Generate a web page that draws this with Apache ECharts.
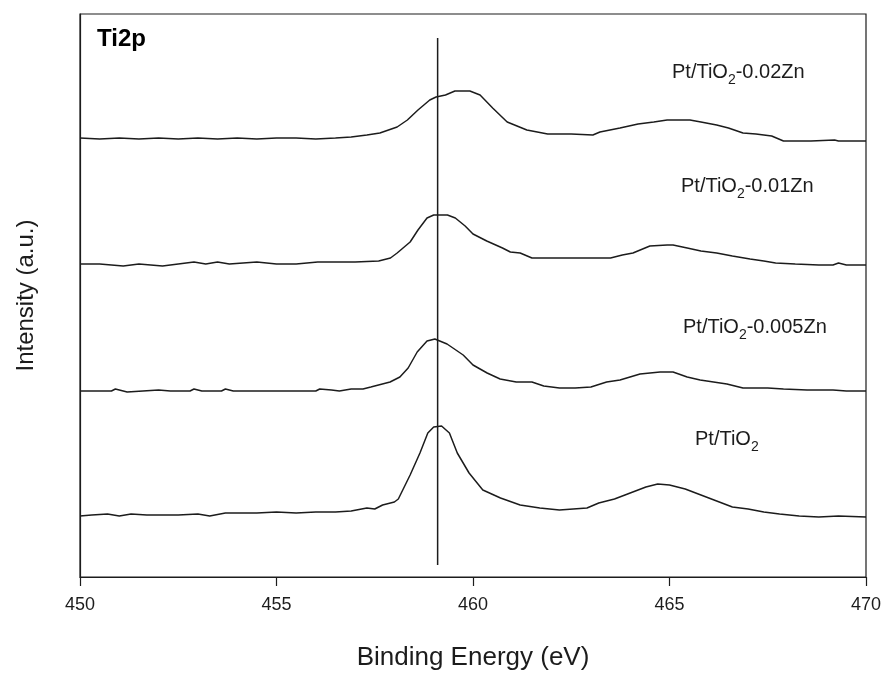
<!DOCTYPE html>
<html>
<head>
<meta charset="utf-8">
<script src="https://cdn.jsdelivr.net/npm/echarts@6/dist/echarts.min.js"></script>
<style>
  html, body { margin: 0; padding: 0; background: #fff; }
  #chart { width: 888px; height: 677px; }
</style>
</head>
<body>
<div id="chart"></div>
<script>
// Ti 2p XPS spectra, stacked with vertical offsets (intensity in arbitrary units)
const xTicks = [450, 455, 460, 465, 470];

const spec002Zn = [
  [450.0,439],[450.5,438],[451.0,439],[451.5,438],[452.0,439],[452.5,438],[453.0,439],[453.5,438],
  [454.0,439],[454.5,438],[455.0,439],[455.5,439],[456.0,438],[456.5,439],[456.9,440],[457.3,442],
  [457.63,444],[458.07,450],[458.33,457],[458.6,467],[458.9,477],[459.06,480],[459.3,482],[459.54,486],
  [459.92,486],[460.18,482],[460.5,469],[460.87,455],[461.37,447],[461.9,443],[462.5,443],[463.05,442],
  [463.23,445],[463.74,449],[464.2,453],[464.6,455],[464.94,457],[465.52,457],[465.8,455],[466.2,452],
  [466.5,449],[466.87,444],[467.2,443],[467.6,441],[467.9,436],[468.6,436],[469.2,437],[469.3,436],[470.0,436]
];

const spec001Zn = [
  [450.0,313],[450.5,313],[451.1,311],[451.5,313],[452.1,311],[452.5,313],[452.9,315],[453.2,313],
  [453.5,315],[453.8,313],[454.5,315],[455.0,313],[455.5,313],[456.05,315],[456.5,315],[457.0,315],
  [457.6,316],[457.9,319],[458.07,324],[458.4,335],[458.6,347],[458.83,359],[459.0,362],[459.35,362],
  [459.55,359],[459.8,351],[460.0,343],[460.35,336],[460.75,329],[460.95,325],[461.2,324],[461.5,319],
  [462.0,319],[462.5,319],[463.0,319],[463.5,319],[463.8,322],[464.07,324],[464.5,331],[464.94,332],
  [465.09,332],[465.45,329],[465.8,326],[466.2,324],[466.6,321],[467.05,318],[467.4,316],[467.7,314],
  [468.2,313],[468.8,312],[469.16,312],[469.3,314],[469.5,312],[470.0,312]
];

const spec0005Zn = [
  [450.0,186],[450.8,186],[450.9,188],[451.2,185],[451.6,186],[452.0,187],[452.3,186],[452.8,186],
  [452.9,188],[453.1,186],[453.6,186],[453.7,188],[453.9,186],[455.0,186],[456.0,186],[456.1,188],
  [456.4,187],[456.6,186],[456.9,188],[457.2,188],[457.4,190],[457.89,195],[458.14,200],[458.35,209],
  [458.58,225],[458.83,236],[459.03,238],[459.34,233],[459.75,222],[460.0,212],[460.36,204],[460.69,198],
  [461.1,195],[461.5,195],[461.8,191],[462.2,189],[462.6,189],[463.0,190],[463.4,195],[463.74,197],
  [464.25,203],[464.76,205],[465.09,205],[465.45,200],[465.78,197],[466.46,193],[466.87,189],[467.5,189],
  [467.9,188],[468.5,187],[469.16,187],[469.5,186],[470.0,186]
];

const specPtTiO2 = [
  [450.0,61],[450.3,62],[450.7,63],[451.0,61],[451.3,63],[451.7,62],[452.0,62],[452.5,62],
  [453.0,63],[453.3,61],[453.7,64],[454.0,64],[454.5,64],[455.0,65],[455.5,64],[456.0,65],
  [456.5,65],[456.9,66],[457.3,69],[457.5,68],[457.7,72],[458.0,75],[458.1,78],[458.4,102],
  [458.65,124],[458.85,144],[459.0,150],[459.2,151],[459.4,144],[459.6,124],[459.9,104],[460.25,87],
  [460.7,79],[461.2,72],[461.7,69],[462.2,67],[462.9,69],[463.2,74],[463.6,78],[464.0,84],
  [464.4,90],[464.7,93],[465.0,92],[465.4,88],[465.8,82],[466.2,76],[466.6,70],[467.0,68],
  [467.4,65],[467.8,63],[468.3,61],[468.8,60],[469.3,61],[470.0,60]
];

// Ti 2p3/2 reference position and the vertical span of its marker line
const refLineEV = 459.1;
const refLineSpan = [12, 539];

const seriesNames = ['Pt/TiO2-0.02Zn', 'Pt/TiO2-0.01Zn', 'Pt/TiO2-0.005Zn', 'Pt/TiO2'];
const seriesData = [spec002Zn, spec001Zn, spec0005Zn, specPtTiO2];

const INK = '#1c1c1c';
const FONT = '"Liberation Sans", Arial, sans-serif';

const chart = echarts.init(document.getElementById('chart'), null, { renderer: 'canvas' });

const lineSeries = seriesData.map((d, i) => ({
  name: seriesNames[i],
  type: 'line',
  data: d,
  showSymbol: false,
  symbol: 'none',
  smooth: false,
  lineStyle: { color: INK, width: 1.5 },
  animation: false
}));

lineSeries.push({
  name: 'ref',
  type: 'line',
  data: [[refLineEV, refLineSpan[0]], [refLineEV, refLineSpan[1]]],
  symbol: 'none',
  lineStyle: { color: INK, width: 1.5 },
  animation: false
});

// Sample labels with subscript "2" in TiO2
const subRich = {
  n: { fontFamily: FONT, fontSize: 20, color: INK, lineHeight: 26, verticalAlign: 'bottom' },
  s: { fontFamily: FONT, fontSize: 14, color: INK, lineHeight: 26, verticalAlign: 'bottom', padding: [0, 0, -5, 0] }
};
function sampleLabel(text, left, top) {
  const parts = text.split('TiO2');
  const rich = '{n|' + parts[0] + 'TiO}{s|2}' + (parts[1] ? '{n|' + parts[1] + '}' : '');
  return {
    type: 'text',
    left: left,
    top: top,
    style: { text: rich, rich: subRich, fill: INK }
  };
}

chart.setOption({
  backgroundColor: '#fff',
  animation: false,
  grid: {
    left: 80, right: 22, top: 14, bottom: 100,
    show: true, borderColor: INK, borderWidth: 1.2, backgroundColor: 'transparent'
  },
  xAxis: {
    type: 'value',
    min: xTicks[0],
    max: xTicks[xTicks.length - 1],
    interval: 5,
    name: 'Binding Energy (eV)',
    nameLocation: 'middle',
    nameGap: 68,
    nameTextStyle: { fontFamily: FONT, fontSize: 26, color: INK },
    axisLine: { show: true, lineStyle: { color: INK, width: 1.2 } },
    axisTick: { show: true, inside: false, length: 9, lineStyle: { color: INK, width: 1.2 } },
    axisLabel: { fontFamily: FONT, fontSize: 18, color: INK, margin: 19 },
    splitLine: { show: false }
  },
  yAxis: {
    type: 'value',
    min: 0,
    max: 563,
    name: 'Intensity (a.u.)',
    nameLocation: 'middle',
    nameGap: 42,
    nameTextStyle: { fontFamily: FONT, fontSize: 24, color: INK },
    axisLine: { show: true, lineStyle: { color: INK, width: 1.2 } },
    axisTick: { show: false },
    axisLabel: { show: false },
    splitLine: { show: false }
  },
  graphic: [
    {
      type: 'text', left: 97, top: 27,
      style: { text: 'Ti2p', fontFamily: FONT, fontSize: 24, fontWeight: 'bold', fill: '#000' }
    },
    sampleLabel(seriesNames[0], 672, 62),
    sampleLabel(seriesNames[1], 681, 176),
    sampleLabel(seriesNames[2], 683, 317),
    sampleLabel(seriesNames[3], 695, 429)
  ],
  series: lineSeries
});
</script>
</body>
</html>
